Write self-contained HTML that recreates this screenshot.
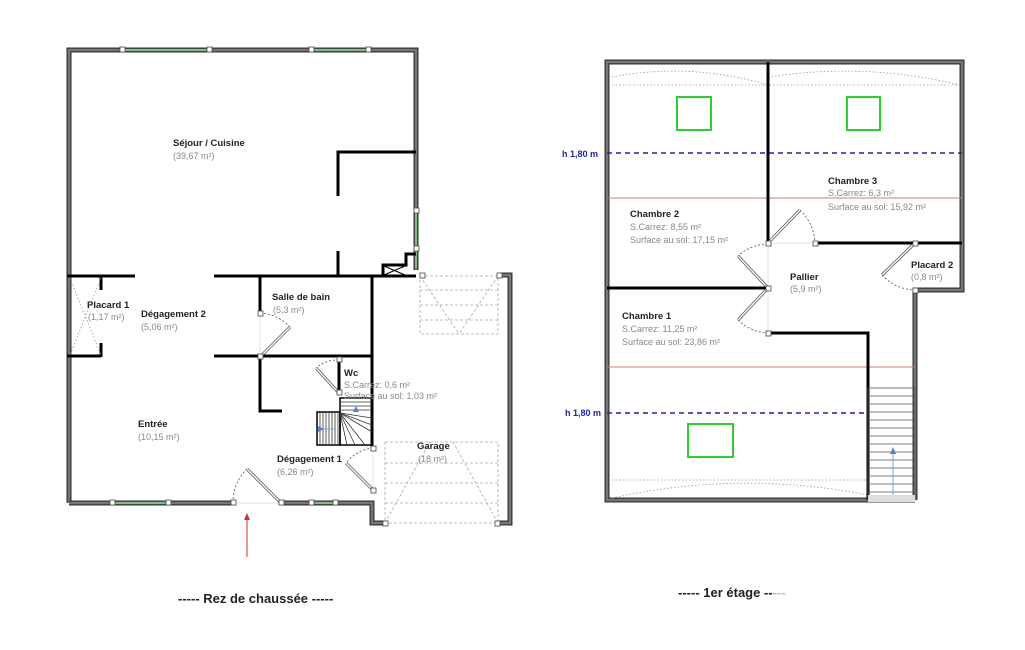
<!DOCTYPE html>
<html><head><meta charset="utf-8"><style>
html,body{margin:0;padding:0;background:#fff;}
svg{display:block;}
text{font-family:"Liberation Sans",sans-serif;}
.b{font-size:9.5px;font-weight:bold;fill:#222;}
.g{font-size:9px;fill:#888;}
.ow{stroke:#333;stroke-width:5;fill:none;}
.ow2{stroke:#777;stroke-width:2.5;fill:none;}
.w{stroke:#000;stroke-width:3;fill:none;}
.win{stroke:#7fbf7f;stroke-width:2;}
.sq{fill:#fff;stroke:#444;stroke-width:0.8;}
.dr{stroke:#555;stroke-width:3;}
.dr2{stroke:#fff;stroke-width:1.4;}
.arc{stroke:#555;stroke-width:0.8;fill:none;stroke-dasharray:2,2;}
.dot{stroke:#999;stroke-width:0.8;fill:none;stroke-dasharray:1.5,2;}
.dash{stroke:#aaa;stroke-width:0.8;fill:none;stroke-dasharray:3,2;}
</style></head><body>
<svg width="1025" height="650" viewBox="0 0 1025 650" xmlns="http://www.w3.org/2000/svg">
<rect width="1025" height="650" fill="#fff"/>

<!-- ============ GROUND FLOOR ============ -->
<!-- outer walls -->
<polyline class="ow" points="69,503 69,50 416,50 416,270"/>
<polyline class="ow2" points="69,503 69,50 416,50 416,270"/>
<polyline class="ow" points="69,503 372,503 372,523 385,523"/>
<polyline class="ow2" points="69,503 372,503 372,523 385,523"/>
<polyline class="ow" points="497,523 510,523 510,275 500,275"/>
<polyline class="ow2" points="497,523 510,523 510,275 500,275"/>
<!-- windows -->
<line class="win" x1="122" y1="50" x2="210" y2="50" stroke-width="3"/>
<line class="win" x1="311" y1="50" x2="368" y2="50" stroke-width="3"/>
<line class="win" x1="416" y1="210" x2="416" y2="268" stroke-width="3"/>
<line class="win" x1="112" y1="503" x2="168" y2="503" stroke-width="3"/>
<line class="win" x1="311" y1="503" x2="335" y2="503" stroke-width="3"/>
<rect x="233" y="500" width="48" height="6" fill="#fff"/>
<line x1="233" y1="503" x2="281" y2="503" stroke="#ddd" stroke-width="0.8"/>
<!-- interior walls -->
<polyline class="w" points="416,152 338,152 338,196"/>
<line class="w" x1="338" y1="251" x2="338" y2="276"/>
<line class="w" x1="67" y1="276" x2="135" y2="276"/>
<line class="w" x1="214" y1="276" x2="416" y2="276"/>
<line class="w" x1="101" y1="276" x2="101" y2="290"/>
<line class="w" x1="101" y1="343" x2="101" y2="357"/>
<line class="w" x1="67" y1="356" x2="101" y2="356"/>
<line class="w" x1="260" y1="276" x2="260" y2="313"/>
<line class="w" x1="214" y1="356" x2="372" y2="356"/>
<line class="w" x1="372" y1="276" x2="372" y2="448"/>
<polyline class="w" points="260,358 260,411 282,411"/>
<line class="w" x1="339" y1="357" x2="339" y2="392"/>
<!-- placard dotted X -->
<line class="dot" x1="70" y1="278" x2="101" y2="355"/>
<line class="dot" x1="101" y1="278" x2="70" y2="355"/>
<!-- small stair box near kitchen -->
<polyline class="w" points="383,276 383,265 406,265 406,254 416,254" stroke-width="2"/>
<line x1="384" y1="266" x2="405" y2="275" stroke="#000" stroke-width="1"/>
<line x1="405" y1="266" x2="384" y2="275" stroke="#000" stroke-width="1"/>
<!-- stairs -->
<g stroke="#333" stroke-width="0.8">
<rect x="317" y="412" width="23" height="33" fill="#fff" stroke="#000" stroke-width="1.5"/>
<line x1="320" y1="412" x2="320" y2="445"/><line x1="323" y1="412" x2="323" y2="445"/><line x1="326" y1="412" x2="326" y2="445"/><line x1="329" y1="412" x2="329" y2="445"/><line x1="332" y1="412" x2="332" y2="445"/><line x1="335" y1="412" x2="335" y2="445"/><line x1="338" y1="412" x2="338" y2="445"/>
<rect x="340" y="398" width="32" height="47" fill="none" stroke="#000" stroke-width="1.5"/>
<line x1="340" y1="402" x2="372" y2="402"/><line x1="340" y1="406" x2="372" y2="406"/><line x1="340" y1="410" x2="372" y2="410"/>
<line x1="340" y1="413" x2="372" y2="418"/><line x1="340" y1="413" x2="372" y2="425"/><line x1="340" y1="413" x2="372" y2="432"/><line x1="340" y1="413" x2="365" y2="445"/><line x1="340" y1="413" x2="355" y2="445"/><line x1="340" y1="413" x2="347" y2="445"/>
</g>
<line x1="320" y1="429" x2="335" y2="429" stroke="#7aa0e0" stroke-width="0.8"/>
<polygon points="318,426 324,429 318,432" fill="#5a80d0"/>
<polygon points="356,406 353,412 359,412" fill="#5a80d0"/>
<!-- garage dashed shapes -->
<rect class="dash" x="420" y="276" width="78" height="58"/>
<line class="dash" x1="420" y1="290" x2="498" y2="290"/><line class="dash" x1="420" y1="305" x2="498" y2="305"/><line class="dash" x1="420" y1="320" x2="498" y2="320"/>
<line class="dash" x1="420" y1="276" x2="459" y2="334"/><line class="dash" x1="498" y1="276" x2="459" y2="334"/>
<rect class="dash" x="385" y="442" width="113" height="81"/>
<line class="dash" x1="385" y1="463" x2="498" y2="463"/><line class="dash" x1="385" y1="483" x2="498" y2="483"/><line class="dash" x1="385" y1="503" x2="498" y2="503"/>
<line class="dash" x1="385" y1="523" x2="430" y2="442"/><line class="dash" x1="498" y1="523" x2="453" y2="442"/>
<!-- doors -->
<line x1="260" y1="313" x2="260" y2="356" stroke="#ddd" stroke-width="0.8"/>
<line class="dr" x1="260" y1="357" x2="290" y2="327"/><line class="dr2" x1="260" y1="357" x2="290" y2="327"/>
<path class="arc" d="M260,313 A44,44 0 0 1 290,327"/>
<line class="dr" x1="338" y1="392" x2="316" y2="368"/><line class="dr2" x1="338" y1="392" x2="316" y2="368"/>
<path class="arc" d="M339,360 A32,32 0 0 0 316,368"/>
<line class="dr" x1="373" y1="490" x2="346" y2="463"/><line class="dr2" x1="373" y1="490" x2="346" y2="463"/>
<path class="arc" d="M373,448 A40,40 0 0 0 346,463"/>
<line x1="373" y1="448" x2="373" y2="490" stroke="#ddd" stroke-width="0.8"/>
<line class="dr" x1="281" y1="503" x2="247" y2="469"/><line class="dr2" x1="281" y1="503" x2="247" y2="469"/>
<path class="arc" d="M233,503 A46,46 0 0 1 247,469"/>
<!-- window/door squares -->
<g class="sq">
<rect x="120" y="47" width="5" height="5"/><rect x="207" y="47" width="5" height="5"/><rect x="309" y="47" width="5" height="5"/><rect x="366" y="47" width="5" height="5"/>
<rect x="414" y="208" width="5" height="5"/><rect x="414" y="246" width="5" height="5"/><rect x="420" y="273" width="5" height="5"/><rect x="497" y="273" width="5" height="5"/>
<rect x="110" y="500" width="5" height="5"/><rect x="166" y="500" width="5" height="5"/><rect x="231" y="500" width="5" height="5"/><rect x="279" y="500" width="5" height="5"/><rect x="309" y="500" width="5" height="5"/><rect x="333" y="500" width="5" height="5"/>
<rect x="258" y="311" width="5" height="5"/><rect x="258" y="354" width="5" height="5"/><rect x="337" y="357" width="5" height="5"/><rect x="337" y="390" width="5" height="5"/><rect x="371" y="446" width="5" height="5"/><rect x="371" y="488" width="5" height="5"/>
<rect x="383" y="521" width="5" height="5"/><rect x="495" y="521" width="5" height="5"/>
</g>
<!-- arrow -->
<line x1="247" y1="557" x2="247" y2="518" stroke="#c33" stroke-width="1"/>
<polygon points="244,520 247,513 250,520" fill="#c33"/>
<!-- labels -->
<text class="b" x="173" y="146">Séjour / Cuisine</text><text class="g" x="173" y="159">(39,67 m²)</text>
<text class="b" x="87" y="308">Placard 1</text><text class="g" x="88" y="320">(1,17 m²)</text>
<text class="b" x="141" y="317">Dégagement 2</text><text class="g" x="141" y="330">(5,06 m²)</text>
<text class="b" x="272" y="300">Salle de bain</text><text class="g" x="273" y="313">(5,3 m²)</text>
<text class="b" x="344" y="376">Wc</text><text class="g" x="344" y="388">S.Carrez: 0,6 m²</text><text class="g" x="344" y="399">Surface au sol: 1,03 m²</text>
<text class="b" x="138" y="427">Entrée</text><text class="g" x="138" y="440">(10,15 m²)</text>
<text class="b" x="277" y="462">Dégagement 1</text><text class="g" x="277" y="475">(6,26 m²)</text>
<text class="b" x="417" y="449">Garage</text><text class="g" x="418" y="462">(18 m²)</text>
<text x="178" y="603" style="font-size:13px;font-weight:bold;fill:#222">-----  Rez de chaussée  -----</text>

<!-- ============ FIRST FLOOR ============ -->
<polyline class="ow" points="915,500 607,500 607,62 962,62 962,290 915,290 915,500"/>
<polyline class="ow2" points="915,500 607,500 607,62 962,62 962,290 915,290 915,500"/>
<!-- dotted eaves -->
<path class="dot" d="M612,85 L962,85 M612,77 Q690,62 768,85 M768,77 Q865,62 960,85 M612,480 L868,480 M612,498 Q740,470 868,495"/>
<!-- green squares -->
<rect x="677" y="97" width="34" height="33" fill="none" stroke="#3c3" stroke-width="2"/>
<rect x="847" y="97" width="33" height="33" fill="none" stroke="#3c3" stroke-width="2"/>
<rect x="688" y="424" width="45" height="33" fill="none" stroke="#3c3" stroke-width="2"/>
<!-- red lines -->
<line x1="607" y1="198" x2="962" y2="198" stroke="#d77" stroke-width="1"/>
<line x1="607" y1="367" x2="915" y2="367" stroke="#d77" stroke-width="1"/>
<!-- blue dashed -->
<line x1="607" y1="153" x2="962" y2="153" stroke="#22a" stroke-width="1.5" stroke-dasharray="5,4"/>
<line x1="607" y1="413" x2="868" y2="413" stroke="#22a" stroke-width="1.5" stroke-dasharray="5,4"/>
<text x="562" y="157" style="font-size:9px;font-weight:bold;fill:#22a">h 1,80 m</text>
<text x="565" y="416" style="font-size:9px;font-weight:bold;fill:#22a">h 1,80 m</text>
<!-- interior walls -->
<line class="w" x1="768" y1="62" x2="768" y2="243"/>
<line class="w" x1="815" y1="243" x2="962" y2="243"/>
<line class="w" x1="607" y1="288" x2="768" y2="288"/>
<polyline class="w" points="768,333 868,333 868,500"/>
<!-- stairs -->
<g stroke="#555" stroke-width="0.8">
<rect x="868" y="388" width="47" height="112" fill="none"/>
<line x1="868" y1="396" x2="915" y2="396"/><line x1="868" y1="404" x2="915" y2="404"/><line x1="868" y1="412" x2="915" y2="412"/><line x1="868" y1="420" x2="915" y2="420"/><line x1="868" y1="428" x2="915" y2="428"/><line x1="868" y1="436" x2="915" y2="436"/><line x1="868" y1="444" x2="915" y2="444"/><line x1="868" y1="452" x2="915" y2="452"/><line x1="868" y1="460" x2="915" y2="460"/><line x1="868" y1="468" x2="915" y2="468"/><line x1="868" y1="476" x2="915" y2="476"/><line x1="868" y1="484" x2="915" y2="484"/><line x1="868" y1="492" x2="915" y2="492"/>
</g>
<line x1="893" y1="497" x2="893" y2="452" stroke="#7aa0e0" stroke-width="1"/>
<polygon points="890,454 893,447 896,454" fill="#5a80d0"/>
<rect x="868" y="495" width="47" height="7" fill="#ddd"/>
<!-- doors -->
<line x1="768" y1="243" x2="768" y2="333" stroke="#ddd" stroke-width="0.8"/>
<line x1="768" y1="243" x2="815" y2="243" stroke="#ddd" stroke-width="0.8"/>
<line class="dr" x1="768" y1="243" x2="800" y2="210"/><line class="dr2" x1="768" y1="243" x2="800" y2="210"/>
<path class="arc" d="M800,210 A48,48 0 0 1 815,243"/>
<line class="dr" x1="768" y1="288" x2="738" y2="256"/><line class="dr2" x1="768" y1="288" x2="738" y2="256"/>
<path class="arc" d="M768,244 A45,45 0 0 0 738,256"/>
<line class="dr" x1="768" y1="288" x2="738" y2="320"/><line class="dr2" x1="768" y1="288" x2="738" y2="320"/>
<path class="arc" d="M738,320 A45,45 0 0 0 768,333"/>
<line class="dr" x1="915" y1="243" x2="882" y2="275"/><line class="dr2" x1="915" y1="243" x2="882" y2="275"/>
<path class="arc" d="M882,275 A46,46 0 0 0 915,290"/>
<g class="sq">
<rect x="766" y="241" width="5" height="5"/><rect x="813" y="241" width="5" height="5"/><rect x="913" y="241" width="5" height="5"/><rect x="766" y="286" width="5" height="5"/><rect x="766" y="331" width="5" height="5"/><rect x="913" y="288" width="5" height="5"/>
</g>
<!-- labels -->
<text class="b" x="828" y="184">Chambre 3</text><text class="g" x="828" y="196">S.Carrez: 6,3 m²</text><text class="g" x="828" y="210">Surface au sol: 15,92 m²</text>
<text class="b" x="630" y="217">Chambre 2</text><text class="g" x="630" y="230">S.Carrez: 8,55 m²</text><text class="g" x="630" y="243">Surface au sol: 17,15 m²</text>
<text class="b" x="790" y="280">Pallier</text><text class="g" x="790" y="292">(5,9 m²)</text>
<text class="b" x="911" y="268">Placard 2</text><text class="g" x="911" y="280">(0,8 m²)</text>
<text class="b" x="622" y="319">Chambre 1</text><text class="g" x="622" y="332">S.Carrez: 11,25 m²</text><text class="g" x="622" y="345">Surface au sol: 23,86 m²</text>
<text x="678" y="597" style="font-size:13px;font-weight:bold;fill:#222">-----  1er étage  --<tspan fill="#bbb">---</tspan></text>
</svg>
</body></html>
